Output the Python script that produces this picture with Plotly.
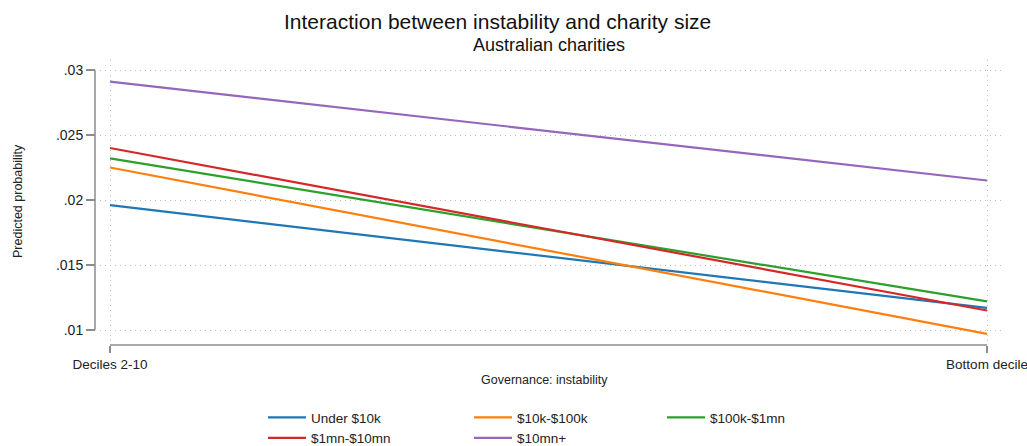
import plotly.graph_objects as go

# Predicted probabilities at the two instability levels, by charity size
x_labels = ["Deciles 2-10", "Bottom decile"]
x_pos = [0, 1]
series_names = ["Under $10k", "$10k-$100k", "$100k-$1mn", "$1mn-$10mn", "$10mn+"]
under_10k = [0.0196, 0.0117]
k10_100k = [0.0225, 0.0097]
k100_1mn = [0.0232, 0.0122]
mn1_10mn = [0.0240, 0.0115]
mn10_plus = [0.0291, 0.0215]
series_values = [under_10k, k10_100k, k100_1mn, mn1_10mn, mn10_plus]
colors = ["#1f77b4", "#ff7f0e", "#2ca02c", "#d62728", "#9467bd"]
y_ticks = [0.01, 0.015, 0.02, 0.025, 0.03]
y_ticktext = [".01", ".015", ".02", ".025", ".03"]

# legend layout: which legend column each series goes into
legend_ids = ["legend", "legend2", "legend3", "legend", "legend2"]

W, H = 1027, 446
ML, MR, MT, MB = 95, 24, 60, 101
plot_w = W - ML - MR
plot_h = H - MT - MB
axis_gray = "#8c8c8c"
grid_gray = "#bdbdbd"
font = "Liberation Sans, Arial, sans-serif"


def px_x(px):
    return (px - ML) / plot_w


def px_y(py):
    return (H - MB - py) / plot_h


fig = go.Figure()
for name, vals, col, lg in zip(series_names, series_values, colors, legend_ids):
    fig.add_trace(go.Scatter(
        x=x_pos, y=vals, mode="lines", name=name,
        line=dict(color=col, width=2.2),
        legend=lg,
    ))

legend_common = dict(
    orientation="v", xanchor="left", yanchor="top",
    y=px_y(402), tracegroupgap=0, itemwidth=38,
    font=dict(size=13.5), bgcolor="rgba(0,0,0,0)",
)

fig.update_layout(
    width=W, height=H,
    margin=dict(l=ML, r=MR, t=MT, b=MB, autoexpand=False),
    paper_bgcolor="white", plot_bgcolor="white",
    font=dict(family=font, size=13, color="#222222"),
    showlegend=True,
    xaxis=dict(
        domain=[5 / plot_w, 1],
        range=[-10 / 877, 1 + 16 / 877],
        tickvals=x_pos, ticktext=x_labels,
        ticks="outside", ticklen=7, tickcolor=axis_gray, tickwidth=1.5,
        ticklabelstandoff=0, ticklabeloverflow="allow",
        showgrid=True, gridcolor=grid_gray, griddash="1px,4px", gridwidth=1,
        showline=False, zeroline=False,
        tickfont=dict(size=13.5),
    ),
    yaxis=dict(
        anchor="free", position=0,
        range=[0.03 - 275 / 13000, 0.03 + 10 / 13000],
        tickvals=y_ticks, ticktext=y_ticktext,
        ticks="outside", ticklen=9, tickcolor=axis_gray, tickwidth=1.5,
        showgrid=True, gridcolor=grid_gray, griddash="1px,4px", gridwidth=1,
        showline=False, zeroline=False,
        tickfont=dict(size=14),
    ),
    legend=dict(legend_common, x=px_x(263)),
    legend2=dict(legend_common, x=px_x(469)),
    legend3=dict(legend_common, x=px_x(662)),
    shapes=[
        # x axis line spanning the two categories
        dict(type="line", xref="x", yref="paper", x0=0, x1=1, y0=0, y1=0,
             line=dict(color=axis_gray, width=1.5)),
        # y axis line spanning the labelled range
        dict(type="line", xref="paper", yref="y", x0=0, x1=0, y0=0.01, y1=0.03,
             line=dict(color=axis_gray, width=1.5)),
    ],
    annotations=[
        dict(text="Interaction between instability and charity size",
             xref="paper", yref="paper", x=px_x(497), y=px_y(21),
             xanchor="center", yanchor="middle", showarrow=False,
             font=dict(size=21, color="#111111")),
        dict(text="Australian charities",
             xref="paper", yref="paper", x=px_x(549), y=px_y(45),
             xanchor="center", yanchor="middle", showarrow=False,
             font=dict(size=18, color="#111111")),
        dict(text="Predicted probability",
             xref="paper", yref="paper", x=px_x(18), y=px_y(201),
             xanchor="center", yanchor="middle", showarrow=False, textangle=-90,
             font=dict(size=12.5)),
        dict(text="Governance: instability",
             xref="paper", yref="paper", x=px_x(544), y=px_y(380),
             xanchor="center", yanchor="middle", showarrow=False,
             font=dict(size=12.5)),
    ],
)

fig.write_html("out.html")
